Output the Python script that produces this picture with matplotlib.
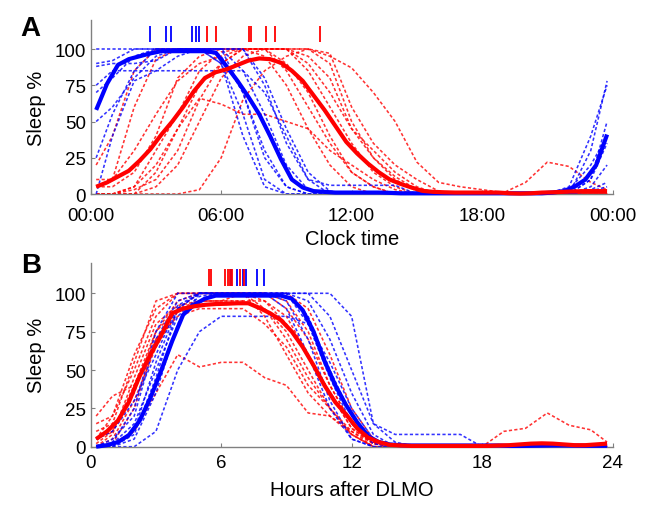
import matplotlib
matplotlib.use('Agg')
import matplotlib.pyplot as plt
import numpy as np

plt.rcParams['font.family'] = ['Liberation Sans', 'DejaVu Sans']

# ── grids (hours)
mean_hours = np.arange(0.25, 24, 0.5)               # 48 half-hour bins
ind_hours = [0.25] + list(range(1, 24)) + [23.75]   # 25 points per subject

# ── panel A: clock time, group means
blue_mean_a = [58, 76, 89, 93, 95, 97, 98.5, 98.5, 98.5, 98.5, 98.5, 97.5,
               88, 78, 67, 55, 40, 24, 10, 4.5, 2, 1.5, 1, 1,
               1, 1, 1, 0.8, 0.5, 0.5, 0.5, 0.5, 0.5, 0.5, 0.5, 0.5,
               0.5, 0.5, 0.5, 0.5, 0.5, 0.5, 1, 2, 5, 10, 20, 41]
red_mean_a = [5, 8, 12, 16, 23, 31, 41, 50, 60, 71, 80, 84,
              86, 89, 92, 93.5, 93, 90.5, 85, 78, 68, 58, 47, 36,
              28, 21, 15, 10, 7, 4.5, 2.2, 1.5, 1.2, 1, 1, 1,
              1, 1, 0.5, 0.3, 0.5, 1, 1.2, 1.5, 1.8, 2, 2, 2]

# ── panel A: individual subjects
blue_ind_a = [
    [100, 100, 100, 100, 100, 100, 90, 40, 5, 0, 0, 0, 0, 0, 0, 0, 0, 0, 0, 0, 0, 0, 0, 30, 78],
    [90, 92, 100, 100, 100, 100, 95, 70, 30, 5, 0, 0, 0, 0, 0, 0, 0, 0, 0, 0, 0, 0, 5, 40, 75],
    [88, 90, 90, 92, 100, 100, 100, 85, 55, 20, 3, 0, 0, 0, 0, 0, 0, 0, 0, 0, 0, 0, 0, 3, 8],
    [75, 85, 85, 85, 85, 85, 85, 85, 70, 40, 10, 6, 6, 6, 6, 0, 0, 0, 0, 0, 0, 0, 0, 5, 20],
    [70, 80, 95, 100, 100, 100, 100, 100, 80, 45, 15, 2, 0, 0, 0, 0, 0, 0, 0, 0, 0, 0, 0, 10, 50],
    [50, 60, 80, 95, 100, 100, 90, 55, 10, 0, 0, 0, 0, 0, 0, 0, 0, 0, 0, 0, 0, 0, 3, 20, 40],
    [25, 55, 85, 100, 100, 100, 100, 100, 75, 35, 10, 0, 0, 0, 0, 0, 0, 0, 0, 0, 0, 0, 0, 2, 5],
    [0, 40, 78, 85, 95, 100, 100, 70, 25, 5, 0, 0, 0, 0, 0, 0, 0, 0, 0, 0, 0, 0, 0, 10, 35],
]
red_ind_a = [
    [20, 40, 85, 100, 100, 100, 100, 100, 95, 75, 45, 20, 5, 0, 0, 0, 0, 0, 0, 0, 0, 0, 0, 0, 0],
    [10, 10, 60, 93, 100, 100, 100, 100, 100, 90, 70, 40, 15, 5, 0, 0, 0, 0, 0, 0, 0, 0, 0, 0, 0],
    [5, 5, 15, 40, 80, 95, 100, 100, 100, 100, 85, 60, 35, 15, 5, 0, 0, 0, 0, 0, 0, 0, 0, 0, 0],
    [0, 0, 5, 20, 45, 66, 62, 55, 55, 50, 45, 30, 20, 10, 3, 0, 0, 0, 0, 0, 0, 0, 0, 0, 0],
    [0, 0, 5, 30, 55, 85, 98, 100, 100, 100, 95, 80, 45, 30, 15, 5, 0, 0, 0, 0, 0, 0, 0, 0, 0],
    [0, 0, 0, 15, 45, 75, 90, 100, 100, 100, 100, 95, 87, 70, 50, 22, 8, 5, 3, 1, 8, 22, 19, 8, 3],
    [0, 0, 0, 0, 0, 3, 25, 65, 85, 95, 100, 90, 50, 25, 12, 3, 0, 0, 0, 0, 0, 0, 0, 0, 0],
    [0, 0, 3, 10, 30, 65, 90, 100, 100, 100, 90, 70, 45, 25, 10, 2, 0, 0, 0, 0, 0, 0, 0, 0, 0],
    [5, 10, 30, 55, 78, 90, 95, 100, 100, 85, 60, 35, 15, 5, 0, 0, 0, 0, 0, 0, 0, 0, 0, 0, 0],
    [0, 0, 0, 5, 20, 50, 80, 95, 100, 100, 100, 97, 60, 35, 20, 10, 2, 0, 0, 0, 0, 0, 0, 0, 0],
]

# mid-sleep markers (clock hours)
blue_marks_a = [2.73, 3.47, 3.67, 4.66, 4.83, 4.99]
red_marks_a = [5.33, 5.75, 7.27, 7.39, 8.08, 8.46, 10.53]

# ── panel B: hours after DLMO, group means
blue_mean_b = [0, 1, 3, 7.5, 17, 32, 50, 69, 86, 92.5, 96.5, 98.5,
               98.5, 98.5, 98.5, 98.5, 98.5, 98.5, 96.5, 89, 75, 56, 40, 27,
               16, 7, 3, 1.5, 1, 0.8, 0.8, 0.8, 0.8, 0.8, 0.8, 0.8,
               0.8, 0.8, 0.5, 0.5, 0.6, 0.7, 0.8, 0.8, 0.7, 0.6, 0.6, 0.6]
red_mean_b = [5, 10, 17, 29, 46, 60, 73, 87, 90, 91.5, 92.5, 93,
              93.2, 93.5, 93.5, 90.5, 87, 82.5, 75, 65, 53, 40, 29, 21,
              12, 6, 3, 1.2, 0.8, 0.5, 0.5, 0.5, 0.5, 0.5, 0.5, 0.5,
              0.5, 0.8, 1, 1.5, 2, 2.2, 2, 1.5, 1, 1, 1.5, 2]

blue_ind_b = [
    [0, 0, 10, 55, 90, 100, 100, 100, 100, 100, 100, 100, 85, 15, 8, 8, 8, 8, 0, 0, 0, 0, 0, 0, 0],
    [0, 2, 15, 50, 85, 98, 100, 100, 100, 100, 80, 45, 15, 2, 0, 0, 0, 0, 0, 0, 0, 0, 0, 0, 0],
    [0, 0, 0, 10, 50, 75, 85, 85, 85, 85, 80, 55, 25, 5, 0, 0, 0, 0, 0, 0, 0, 0, 0, 0, 0],
    [0, 5, 20, 70, 95, 100, 100, 100, 100, 100, 85, 50, 20, 5, 0, 0, 0, 0, 0, 0, 0, 0, 0, 0, 0],
    [0, 0, 5, 35, 80, 100, 100, 100, 100, 100, 95, 70, 35, 8, 0, 0, 0, 0, 0, 0, 0, 0, 0, 0, 0],
    [0, 3, 25, 75, 100, 100, 100, 100, 100, 95, 70, 30, 5, 0, 0, 0, 0, 0, 0, 0, 0, 0, 0, 0, 0],
    [0, 0, 8, 45, 90, 100, 100, 100, 100, 100, 100, 85, 50, 15, 3, 0, 0, 0, 0, 0, 0, 0, 0, 0, 0],
    [5, 10, 30, 60, 92, 100, 100, 100, 100, 90, 60, 25, 5, 0, 0, 0, 0, 0, 0, 0, 0, 0, 0, 0, 0],
]
red_ind_b = [
    [20, 33, 40, 75, 95, 100, 100, 100, 95, 80, 60, 35, 12, 2, 0, 0, 0, 0, 0, 0, 0, 0, 0, 0, 0],
    [10, 15, 55, 95, 100, 100, 100, 100, 100, 90, 70, 40, 15, 3, 0, 0, 0, 0, 0, 0, 0, 0, 0, 0, 0],
    [5, 10, 35, 75, 90, 95, 95, 95, 90, 75, 50, 25, 8, 0, 0, 0, 0, 0, 0, 0, 0, 0, 0, 0, 0],
    [0, 2, 10, 35, 60, 52, 55, 55, 45, 40, 22, 20, 10, 2, 0, 0, 0, 0, 0, 0, 0, 0, 0, 0, 0],
    [15, 20, 50, 85, 100, 100, 100, 100, 90, 70, 45, 25, 8, 0, 0, 0, 0, 0, 0, 0, 0, 0, 0, 0, 0],
    [0, 2, 25, 70, 90, 100, 100, 100, 100, 95, 75, 40, 15, 3, 0, 0, 0, 0, 0, 10, 12, 22, 14, 11, 3],
    [0, 5, 30, 65, 88, 95, 95, 95, 95, 85, 60, 35, 12, 2, 0, 0, 0, 0, 0, 0, 0, 0, 0, 0, 0],
    [5, 20, 60, 90, 100, 100, 100, 100, 85, 60, 35, 20, 8, 0, 0, 0, 0, 0, 0, 0, 0, 0, 0, 0, 0],
    [0, 8, 45, 80, 92, 95, 95, 100, 100, 100, 90, 60, 25, 5, 0, 0, 0, 0, 0, 0, 0, 0, 0, 0, 0],
    [2, 10, 40, 70, 85, 90, 90, 90, 80, 65, 40, 25, 10, 0, 0, 0, 0, 0, 0, 0, 0, 0, 0, 0, 0],
]

red_marks_b = [5.45, 5.54, 6.16, 6.31, 6.42, 6.51, 6.88, 7.06]
blue_marks_b = [6.45, 6.73, 7.0, 7.14, 7.65, 7.95]

xticks = [0, 6, 12, 18, 24]
xlabels_a = ['00:00', '06:00', '12:00', '18:00', '00:00']
xlabels_b = ['0', '6', '12', '18', '24']
yticks = [0, 25, 50, 75, 100]

c_blue = '#0000FF'
c_red = '#FF0000'
c_axis = '#808080'
dotted = (0, (2, 1.4))


def draw_panel(ax, blue_ind, red_ind, blue_mean, red_mean, blue_marks, red_marks):
    for ys in red_ind:
        ax.plot(ind_hours, ys, color=c_red, lw=1.15, ls=dotted, alpha=0.8, clip_on=False)
    for ys in blue_ind:
        ax.plot(ind_hours, ys, color=c_blue, lw=1.15, ls=dotted, alpha=0.8, clip_on=False)
    ax.plot(mean_hours, blue_mean, color=c_blue, lw=3.0, solid_capstyle='butt', clip_on=False, zorder=5)
    ax.plot(mean_hours, red_mean, color=c_red, lw=3.0, solid_capstyle='butt', clip_on=False, zorder=6)
    ax.vlines(blue_marks, 105, 116, color=c_blue, lw=1.3)
    ax.vlines(red_marks, 105, 116, color=c_red, lw=1.3)

    ax.set_xlim(0, 24)
    ax.set_ylim(0, 120)
    ax.set_yticks(yticks)
    for s in ['top', 'right']:
        ax.spines[s].set_visible(False)
    for s in ['left', 'bottom']:
        ax.spines[s].set_color(c_axis)
        ax.spines[s].set_linewidth(1.0)
    ax.tick_params(direction='in', length=3, color=c_axis, labelsize=13.5)
    ax.set_ylabel('Sleep %', fontsize=14.5, labelpad=6)


fig = plt.figure(figsize=(6.49, 5.06), dpi=100)
ax_a = fig.add_axes([0.1398, 0.6146, 0.804, 0.3439])
ax_b = fig.add_axes([0.1398, 0.1152, 0.804, 0.3638])

draw_panel(ax_a, blue_ind_a, red_ind_a, blue_mean_a, red_mean_a, blue_marks_a, red_marks_a)
ax_a.set_xticks(xticks)
ax_a.set_xticklabels(xlabels_a)
ax_a.tick_params(axis='x', pad=9)
ax_a.set_xlabel('Clock time', fontsize=14.5, labelpad=4)

draw_panel(ax_b, blue_ind_b, red_ind_b, blue_mean_b, red_mean_b, blue_marks_b, red_marks_b)
ax_b.set_xticks(xticks)
ax_b.set_xticklabels(xlabels_b)
ax_b.tick_params(axis='x', pad=5)
ax_b.set_xlabel('Hours after DLMO', fontsize=14.5, labelpad=7)

fig.text(0.032, 0.928, 'A', fontsize=20, fontweight='bold')
fig.text(0.032, 0.46, 'B', fontsize=20, fontweight='bold')

fig.savefig('out.png', dpi=100)
